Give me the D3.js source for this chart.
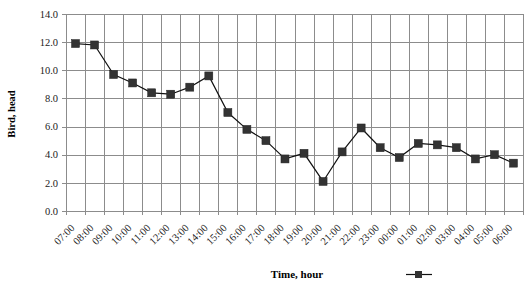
<!DOCTYPE html>
<html>
<head>
<meta charset="utf-8">
<script src="https://cdn.jsdelivr.net/npm/d3@7"></script>
<style>
  body { margin: 0; background: #fff; }
  svg { display: block; }
</style>
</head>
<body>
<script>
var hours = ["07:00","08:00","09:00","10:00","11:00","12:00","13:00","14:00","15:00","16:00","17:00","18:00",
             "19:00","20:00","21:00","22:00","23:00","00:00","01:00","02:00","03:00","04:00","05:00","06:00"];
var birds = [11.9, 11.8, 9.7, 9.1, 8.4, 8.3, 8.8, 9.6, 7.0, 5.8, 5.0, 3.7,
             4.1, 2.1, 4.2, 5.9, 4.5, 3.8, 4.8, 4.7, 4.5, 3.7, 4.0, 3.4];
var yTicks = [0, 2, 4, 6, 8, 10, 12, 14];

var width = 530,
    height = 286,
    plotLeft = 66,
    plotRight = 523,
    plotTop = 14,
    plotBottom = 211;

var x = d3.scaleBand()
        .domain(hours)
        .range([plotLeft, plotRight]);

var y = d3.scaleLinear()
        .domain([0, 14])
        .range([plotBottom, plotTop]);

var svg = d3.select("body")
        .append("svg")
        .attr("width", width)
        .attr("height", height);

// horizontal grid
svg.selectAll("line.hgrid")
    .data(yTicks)
    .enter()
    .append("line")
    .attr("class", "hgrid")
    .attr("x1", plotLeft - 4)
    .attr("x2", plotRight)
    .attr("y1", function(d) { return Math.round(y(d)) + 0.5; })
    .attr("y2", function(d) { return Math.round(y(d)) + 0.5; })
    .attr("stroke", "#8c8c8c")
    .attr("stroke-width", 1);

// vertical grid (category boundaries)
svg.selectAll("line.vgrid")
    .data(d3.range(hours.length + 1))
    .enter()
    .append("line")
    .attr("class", "vgrid")
    .attr("x1", function(i) { return Math.round(plotLeft + i * x.step()) + 0.5; })
    .attr("x2", function(i) { return Math.round(plotLeft + i * x.step()) + 0.5; })
    .attr("y1", plotTop)
    .attr("y2", plotBottom + 4)
    .attr("stroke", "#8c8c8c")
    .attr("stroke-width", 1);

// y tick labels
svg.selectAll("text.ytick")
    .data(yTicks)
    .enter()
    .append("text")
    .attr("class", "ytick")
    .attr("x", plotLeft - 8)
    .attr("y", function(d) { return y(d); })
    .attr("dy", "0.35em")
    .attr("text-anchor", "end")
    .attr("font-family", "Liberation Serif, Times New Roman, serif")
    .attr("font-size", "10.5px")
    .attr("fill", "#222")
    .text(function(d) { return d.toFixed(1); });

// x tick labels
svg.selectAll("text.xtick")
    .data(hours)
    .enter()
    .append("text")
    .attr("class", "xtick")
    .attr("text-anchor", "end")
    .attr("transform", function(d) {
        return "translate(" + (x(d) + x.bandwidth() / 2 - 3) + "," + (plotBottom + 15) + ") rotate(-45)";
    })
    .attr("dy", "0.35em")
    .attr("font-family", "Liberation Serif, Times New Roman, serif")
    .attr("font-size", "10.5px")
    .attr("fill", "#222")
    .text(function(d) { return d; });

// line
var line = d3.line()
    .x(function(d, i) { return x(hours[i]) + x.bandwidth() / 2; })
    .y(function(d) { return y(d); });

svg.append("path")
    .datum(birds)
    .attr("d", line)
    .attr("fill", "none")
    .attr("stroke", "#111")
    .attr("stroke-width", 1.2);

// markers
var m = 8;
svg.selectAll("rect.marker")
    .data(birds)
    .enter()
    .append("rect")
    .attr("class", "marker")
    .attr("x", function(d, i) { return x(hours[i]) + x.bandwidth() / 2 - m / 2; })
    .attr("y", function(d) { return y(d) - m / 2; })
    .attr("width", m)
    .attr("height", m)
    .attr("fill", "#333")
    .attr("stroke", "#222")
    .attr("stroke-width", 0.5);

// axis titles
svg.append("text")
    .attr("transform", "translate(15,114) rotate(-90)")
    .attr("text-anchor", "middle")
    .attr("font-family", "Liberation Serif, Times New Roman, serif")
    .attr("font-weight", "bold")
    .attr("font-size", "10.5px")
    .attr("fill", "#000")
    .text("Bird, head");

svg.append("text")
    .attr("x", 297)
    .attr("y", 278)
    .attr("text-anchor", "middle")
    .attr("font-family", "Liberation Serif, Times New Roman, serif")
    .attr("font-weight", "bold")
    .attr("font-size", "11px")
    .attr("fill", "#000")
    .text("Time, hour");

// legend
svg.append("line")
    .attr("x1", 406)
    .attr("x2", 432)
    .attr("y1", 274.5)
    .attr("y2", 274.5)
    .attr("stroke", "#111")
    .attr("stroke-width", 1.2);

svg.append("rect")
    .attr("x", 415)
    .attr("y", 271)
    .attr("width", 7)
    .attr("height", 7)
    .attr("fill", "#333");
</script>
</body>
</html>
